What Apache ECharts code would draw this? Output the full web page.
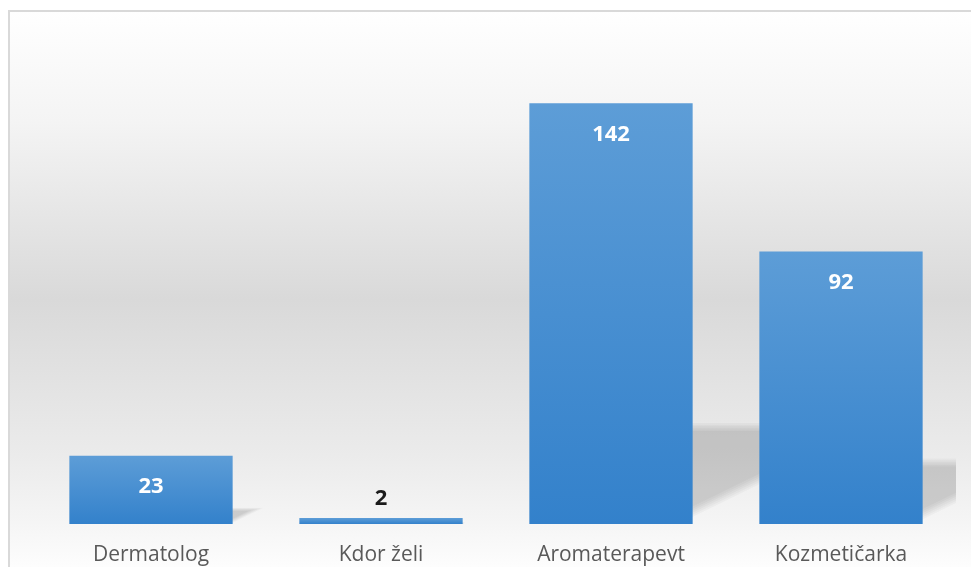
<!DOCTYPE html>
<html>
<head>
<meta charset="utf-8">
<script src="https://cdn.jsdelivr.net/npm/echarts@6/dist/echarts.min.js"></script>
<style>
  html, body { margin: 0; padding: 0; background: #fff; }
  #chart { width: 971px; height: 567px; }
</style>
</head>
<body>
<div id="chart"></div>
<script>
const categories = ['Dermatolog', 'Kdor želi', 'Aromaterapevt', 'Kozmetičarka'];
const values = [23, 2, 142, 92];
// labels that sit above the bar instead of inside
const outsideLabel = [false, true, false, false];

const chart = echarts.init(document.getElementById('chart'));

// soft shadow made of a few stacked, slightly shrinking triangles
function shadowItem(params, api) {
  const idx = api.value(0);
  const v = api.value(1);
  const base = api.coord([idx, 0]);
  const top = api.coord([idx, v]);
  const bw = api.size([1, 0])[0] * 0.71;
  const xr = base[0] + bw / 2;
  const sh = (base[1] - top[1]) * 0.24;
  const yt = base[1] - sh;
  const d = Math.min(1.6, sh * 0.04);
  const m = (0.93 * sh) / (1.9 * sh);
  const layers = [];
  for (let k = 0; k < 6; k++) {
    const t = k * d;
    const yTop = yt + t;
    // diagonal shifted upward by t
    const x0 = xr - 20;
    const yDiag0 = base[1] - 0.07 * sh + 20 * m - 1.3 * t;
    // where diagonal meets the top edge
    const xEnd = x0 + (yDiag0 - yTop) / m;
    layers.push({
      type: 'polygon',
      shape: { points: [[x0, yTop], [xEnd, yTop], [x0, yDiag0]] },
      style: { fill: 'rgba(0,0,0,0.028)' }
    });
  }
  return { type: 'group', children: layers };
}

const option = {
  animation: false,
  graphic: [
    {
      type: 'rect',
      z: -10,
      shape: { x: 9, y: 11, width: 990, height: 600 },
      style: {
        stroke: '#d9d9d9',
        lineWidth: 2,
        fill: {
          type: 'linear', x: 0, y: 10, x2: 0, y2: 567, global: true,
          colorStops: [
            { offset: 0, color: '#ffffff' },
            { offset: 0.2, color: '#f4f4f4' },
            { offset: 0.52, color: '#d9d9d9' },
            { offset: 0.8, color: '#ebebeb' },
            { offset: 0.92, color: '#f5f5f5' },
            { offset: 1, color: '#fdfdfd' }
          ]
        }
      }
    }
  ],
  grid: { left: 36, right: 15, top: 50, bottom: 43 },
  xAxis: {
    type: 'category',
    data: categories,
    axisLine: { show: false },
    axisTick: { show: false },
    axisLabel: {
      color: '#595959',
      fontSize: 21,
      fontFamily: 'Open Sans',
      margin: 21
    }
  },
  yAxis: {
    type: 'value',
    min: 0,
    max: 160,
    show: false,
    splitLine: { show: false }
  },
  series: [
    {
      type: 'custom',
      clip: true,
      z: 1,
      data: values.map(function (v, i) { return [i, v]; }),
      renderItem: shadowItem,
      encode: { x: 0, y: 1 }
    },
    {
      type: 'bar',
      z: 2,
      barCategoryGap: '29%',
      data: values.map(function (v, i) {
        if (!outsideLabel[i]) return v;
        return {
          value: v,
          label: { position: 'top', color: '#1a1a1a', distance: 8 }
        };
      }),
      itemStyle: {
        color: {
          type: 'linear', x: 0, y: 0, x2: 0, y2: 1,
          colorStops: [
            { offset: 0, color: '#5d9dd7' },
            { offset: 1, color: '#3381cb' }
          ]
        }
      },
      label: {
        show: true,
        position: 'insideTop',
        distance: 20,
        color: '#ffffff',
        fontSize: 22,
        fontWeight: 'bold',
        fontFamily: 'Open Sans'
      }
    }
  ]
};

chart.setOption(option);
window.addEventListener('resize', () => chart.resize());
</script>
</body>
</html>
